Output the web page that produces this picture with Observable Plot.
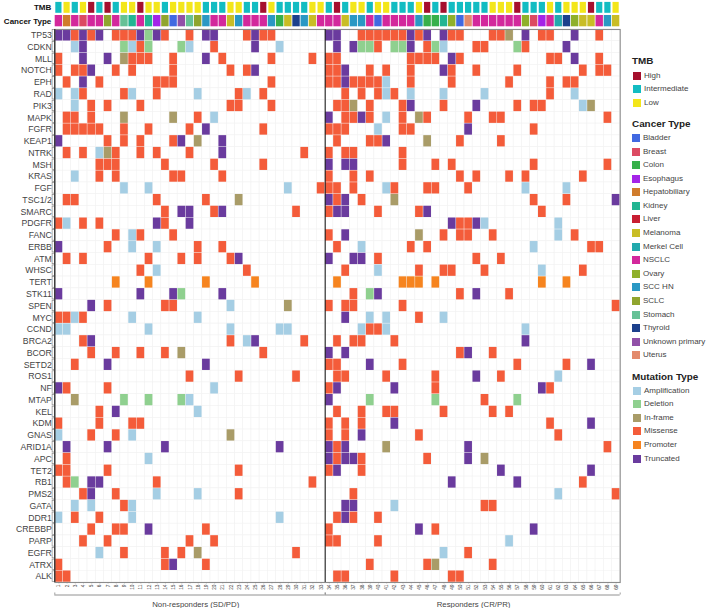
<!DOCTYPE html>
<html>
<head>
<meta charset="utf-8">
<script src="https://cdn.jsdelivr.net/npm/d3@7"></script>
<script src="https://cdn.jsdelivr.net/npm/@observablehq/plot@0.6"></script>
<style>
  html, body { margin: 0; padding: 0; background: #fff; }
  #chart { position: relative; width: 709px; height: 608px; overflow: hidden; font-family: "Liberation Sans", Arial, sans-serif; }
  #chart svg { display: block; }
  .lg-title { position: absolute; left: 632px; font-size: 9.9px; font-weight: bold; color: #222; line-height: 12px; white-space: nowrap; }
  .lg-swatch { position: absolute; width: 8px; height: 8px; }
  .lg-text { position: absolute; font-size: 8px; color: #444; line-height: 10px; white-space: nowrap; }
</style>
</head>
<body>
<div id="chart"></div>
<script>
const genes = ["TP53","CDKN","MLL","NOTCH","EPH","RAD","PIK3","MAPK","FGFR","KEAP1","NTRK","MSH","KRAS","FGF","TSC1/2","SMARC","PDGFR","FANC","ERBB","ATM","WHSC","TERT","STK11","SPEN","MYC","CCND","BRCA2","BCOR","SETD2","ROS1","NF","MTAP","KEL","KDM","GNAS","ARID1A","APC","TET2","RB1","PMS2","GATA","DDR1","CREBBP","PARP","EGFR","ATRX","ALK"];

// Patient number + mutation code, one string per gene, in the order of `genes`
const hits = [
"1T 2T 3M 4T 5M 6T 8M 9M 10M 11T 12D 13T 14M 17M 19T 20T 24M 25T 26M 27M 34T 35T 38M 39M 40M 41M 42M 43M 44T 45M 46T 48T 49M 50M 54M 55M 56I 58T 60M 61M 64T 67M",
"3A 4T 9D 10A 11M 12D 16D 17A 20M 25T 28A 35T 37T 38D 39D 40M 42D 43D 44T 46M 47D 48A 52M 53M 57D 58M 63T",
"1M 4T 7T 9I 10M 11M 12M 15M 19T 21M 27M 32M 34M 35M 44M 45M 46M 47M 49T 50M 61M 62M 64T 67M",
"1M 3M 4M 5T 8M 10M 15M 22M 24M 25T 34M 35M 36T 39M 41M 44M 48T 49M 52M 57M 65M 67M 68M",
"2M 4T 6M 13M 14M 15M 27M 34M 35M 36T 37M 38M 39M 40M 41A 44M 49M 56M 61M 63M 64M",
"1A 3A 4M 9M 10A 13M 18A 23M 24A 26M 36M 38M 40M 41A 42M 44A 48A 53A 61M 64A",
"3A 5M 7M 11M 22M 23M 27M 35M 36M 37I 39M 43M 44T 48M 52T 57M 59M 60M 65A 66I",
"2M 3M 5M 9I 15I 18M 20A 34T 36M 37M 38T 39M 41A 43M 45I 46M 51M 54M 55M 68M",
"2M 3M 4M 5M 6M 9M 12M 17M 19T 26M 34M 35M 36M 40A 43M 44M 51T 59M",
"1T 7M 9M 11M 15M 16T 18I 21T 35M 39M 40M 41T 46I 50M 55M",
"2M 4M 6A 7I 8M 11M 13M 17M 21T 31M 34M 36M 37M 43M",
"6M 7M 8M 14M 20M 26M 34T 36T 37T 43M 47M 49M 59M 68M",
"3A 6M 8M 15M 16M 21M 34M 37M 39M 50M 52M 56M 58M 65M",
"9A 12A 29A 33M 34M 35M 37M 41A 42M 46M 47M 51M 58A 63A",
"2M 3M 13M 19M 23I 34T 35M 36T 38M 42I 59M 63M 69T",
"14M 16T 17T 20M 21T 30M 34M 35T 36T 40M 45M 46T 60M",
"1M 2A 4M 6M 13T 14M 17T 49T 50M 51M 52T 53A 62A",
"8M 10A 11M 15M 34M 36T 45I 48M 50M 51M 54M 62A 64M",
"1T 7M 10A 13A 18M 21M 35M 38A 44M 46M 59A 66M 67M",
"2M 4M 12M 16M 18M 22M 23T 34T 37T 38T 40M 52M 55M",
"11M 13A 24M 36M 40A 45M 48M 49M 53M 60A 65M",
"8P 12P 19P 25P 35P 43P 44P 45P 47P 60P 63P",
"1T 11T 15T 16D 21T 37M 39D 40T 50M 52T 56M",
"5T 7M 14M 15M 22A 29I 34M 36M 37M 43M 69M",
"1M 2M 3A 4M 10A 18A 36T 39A 41A 45M 48A",
"1A 2A 12A 22A 28A 29A 38A 39M 40M 41A 58A",
"4M 5T 22M 24A 25T 31M 35M 37M 38M 42M 58T",
"5M 8M 11M 14M 16I 26M 34T 36T 50M 51T 54M",
"3M 7T 19T 34M 35M 39T 43M 57M 63M 66T",
"17M 23M 30M 35M 36M 41M 47M 52T 55M 62A",
"1T 2M 7M 20A 34M 35T 42T 47M 60T 61M",
"3I 9D 12D 16D 17A 34T 39D 47D 53M 57D",
"6M 8T 18A 35M 38M 41M 42M 48M 54M 56M",
"1M 6M 10M 11M 34M 36M 38M 42T 61M 66T",
"1A 5M 8M 10A 22I 34M 36M 38T 45M 62M",
"2T 7T 14T 28T 34T 35M 36T 41I 51T 68M",
"2M 12A 34T 35M 36T 37T 38M 46M 51T 53I",
"1M 2M 7M 23M 34M 35T 38M 55T 66T",
"2M 3D 5T 6T 13M 32M 49T 57T 65M",
"4M 5T 8M 13A 18A 23M 37M 62A 69M",
"3A 5A 9M 10A 36T 37T 42A 53M 54M",
"1A 3M 6M 10A 28A 35M 36T 37M 40M",
"5M 8M 9M 12T 19M 34M 45T 47M 59T",
"4M 7M 17M 20M 34M 35M 40M 56A",
"6A 9M 14M 16M 18I 30M 48A 51M",
"1M 14M 15T 19M 39M 46M 47I 54M",
"1M 2M 35M 36M 42M 49M 50M"
];

const tmbValues = "I L I L H I H I L L H L L I L L L L I I I L L I I H L I I I I L L I H I L L I L L I I I L H I H I I I I I L L L H I I I L I L L L H I I L".split(" ");
const tmbNames = {H: "High", I: "Intermediate", L: "Low"};
const cancerValues = [
"NSCLC","Hepatobiliary","NSCLC","Breast","NSCLC","NSCLC","SCLC","NSCLC","Stomach","Kidney","NSCLC","Kidney","Esophagus","SCLC","Bladder","Unknown primary","Stomach","SCLC","SCC HN","NSCLC","NSCLC","Melanoma","SCC HN","NSCLC","NSCLC","NSCLC","SCC HN","Colon","Melanoma","Thyroid","SCC HN","Melanoma","NSCLC",
"NSCLC","NSCLC","Melanoma","SCC HN","SCC HN","NSCLC","Bladder","NSCLC","NSCLC","NSCLC","NSCLC","SCC HN","Colon","Colon","Kidney","Ovary","Bladder","Uterus","NSCLC","NSCLC","NSCLC","NSCLC","NSCLC","NSCLC","Ovary","Breast","Esophagus","NSCLC","Merkel Cell","Thyroid","Ovary","Melanoma","Melanoma","NSCLC","SCC HN","Melanoma"];

const tmbLegend = ["High","Intermediate","Low"];
const tmbColors = ["#a50f2d","#12bcc2","#f3e61a"];
const cancerLegend = ["Bladder","Breast","Colon","Esophagus","Hepatobiliary","Kidney","Liver","Melanoma","Merkel Cell","NSCLC","Ovary","SCC HN","SCLC","Stomach","Thyroid","Unknown primary","Uterus"];
const cancerColors = ["#4169e1","#dc4a62","#37b04a","#a424e8","#d07c2c","#22b592","#c81e32","#c9bd25","#22a9ad","#d3289c","#8fb02a","#2a98c4","#90a52e","#66c196","#1c408c","#9150a8","#e38a6c"];
const mutationCodes = ["A","D","I","M","P","T"];
const mutationLegend = ["Amplification","Deletion","In-frame","Missense","Promoter","Truncated"];
const mutationColors = ["#a5cee4","#8fd08f","#a99c68","#f45c3a","#f6841f","#6a3b9e"];

const groupLabels = ["Non-responders (SD/PD)","Responders (CR/PR)"];
const groupFirst = [1, 34];
const groupLast = [33, 69];
const groupLabelAt = [17.2, 51.1];

const cols = d3.range(1, 70);
const PW = 630, ML = 54.3, MR = 10.3;
const BAND = (PW - ML - MR) / cols.length;
const font = {fontFamily: '"Liberation Sans", Arial, sans-serif', background: "transparent"};

const cells = genes.flatMap((g, i) => hits[i].split(" ").map(s => ({gene: g, col: +s.slice(0, -1), type: s.slice(-1)})));
const blanks = genes.flatMap(g => cols.map(c => ({gene: g, col: c})));
const tmbCells = cols.map((c, i) => ({row: "TMB", col: c, v: tmbNames[tmbValues[i]]}));
const cancerCells = cols.map((c, i) => ({row: "Cancer Type", col: c, v: cancerValues[i]}));

const annotPlot = Plot.plot({
  width: PW, height: 28, marginLeft: ML, marginRight: MR, marginTop: 0.5, marginBottom: 0.5,
  style: {...font, color: "#111"},
  x: {type: "band", domain: cols, padding: 0, round: false, axis: null},
  y: {type: "band", domain: ["TMB","Cancer Type"], padding: 0, round: false, axis: null},
  color: {type: "ordinal", domain: [...tmbLegend, ...cancerLegend], range: [...tmbColors, ...cancerColors]},
  marks: [
    Plot.cell(tmbCells, {x: "col", y: "row", fill: "v", insetLeft: 1, insetRight: 1, insetTop: 1.4, insetBottom: 1.2}),
    Plot.cell(cancerCells, {x: "col", y: "row", fill: "v", insetLeft: 0.4, insetRight: 0.4, insetTop: 1, insetBottom: 1.2}),
    Plot.axisY({tickSize: 0, tickPadding: 3.5, fontSize: 8, fontWeight: "bold", label: null})
  ]
});

const mainPlot = Plot.plot({
  width: PW, height: 564, marginLeft: ML, marginRight: MR, marginTop: 1, marginBottom: 10,
  style: {...font, color: "#444"},
  x: {type: "band", domain: cols, padding: 0, round: false, axis: null},
  y: {type: "band", domain: genes, padding: 0, round: false, axis: null},
  color: {type: "ordinal", domain: mutationCodes, range: mutationColors},
  marks: [
    Plot.cell(blanks, {x: "col", y: "gene", fill: "white", stroke: "#f2f2f2", strokeWidth: 0.6}),
    Plot.cell(cells, {x: "col", y: "gene", fill: "type", inset: 0.25}),
    Plot.cell(genes, {y: d => d, fill: "none", stroke: "#777", strokeWidth: 0.6, insetTop: 0.6, insetBottom: 0.6, insetLeft: -2.2, insetRight: PW - ML - MR - 0.2}),
    Plot.frame({stroke: "#8c8c8c", strokeWidth: 1.1}),
    Plot.ruleX([1, 34], {dx: -BAND / 2, stroke: "#222", strokeWidth: 1.1}),
    Plot.axisY({tickSize: 0, tickPadding: 3, fontSize: 8.7, label: null}),
    Plot.axisX({anchor: "bottom", ticks: cols, tickSize: 1.5, tickPadding: 0.5, fontSize: 4.8, tickRotate: -90, label: null, stroke: "#888", strokeWidth: 0.5})
  ]
});

const groups = groupLabels.map((label, i) => ({label, a: groupFirst[i] - 1, b: groupLast[i], mid: groupLabelAt[i]}));
const bracketEnds = groups.flatMap(g => [g.a, g.b]);
const footPlot = Plot.plot({
  width: PW, height: 16, marginLeft: ML, marginRight: MR, marginTop: 2.5, marginBottom: 0,
  style: {...font, color: "#444"},
  x: {domain: [0, cols.length], axis: null},
  y: {domain: [0, 1], axis: null},
  marks: [
    Plot.ruleY(groups, {y: () => 1, x1: "a", x2: "b", stroke: "#777", strokeWidth: 0.8}),
    Plot.ruleX(bracketEnds, {y1: 1, y2: 1.15, stroke: "#777", strokeWidth: 0.7, clip: false}),
    Plot.text(groups, {x: "mid", text: "label", fontSize: 7.8, fill: "#444", dy: -1.6, lineAnchor: "bottom", frameAnchor: "bottom"})
  ]
});

const root = document.getElementById("chart");
root.append(annotPlot, mainPlot, footPlot);

function addTitle(text, y) {
  const t = document.createElement("div");
  t.className = "lg-title"; t.textContent = text; t.style.top = (y - 6) + "px";
  root.append(t);
}
function addRows(labels, colors, y0, sx, tx) {
  labels.forEach((l, i) => {
    const y = y0 + i * 13.58;
    const s = document.createElement("div");
    s.className = "lg-swatch"; s.style.left = sx + "px"; s.style.top = (y - 4) + "px"; s.style.background = colors[i];
    const t = document.createElement("div");
    t.className = "lg-text"; t.textContent = l; t.style.left = tx + "px"; t.style.top = (y - 5) + "px";
    root.append(s, t);
  });
}
addTitle("TMB", 61);
addRows(tmbLegend, tmbColors, 75.7, 633, 644);
addTitle("Cancer Type", 124);
addRows(cancerLegend, cancerColors, 138, 632, 643);
addTitle("Mutation Type", 376.7);
addRows(mutationLegend, mutationColors, 390.7, 633, 644);
</script>
</body>
</html>
